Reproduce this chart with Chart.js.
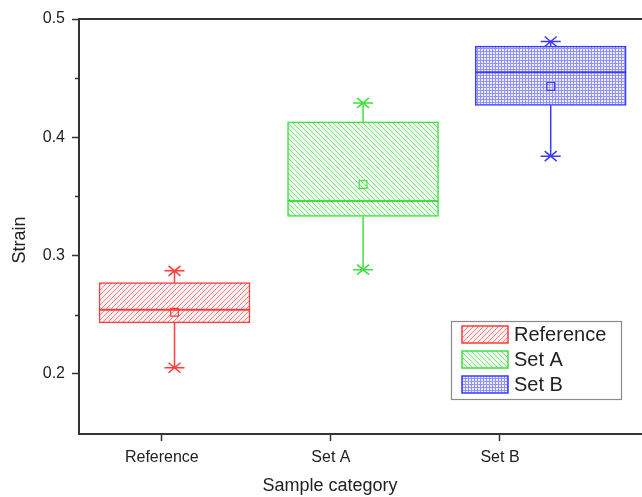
<!DOCTYPE html>
<html>
<head>
<meta charset="utf-8">
<script src="https://cdn.jsdelivr.net/npm/chart.js@4.4.1/dist/chart.umd.min.js"></script>
<style>
  html, body { margin: 0; padding: 0; background: #fff; }
  #wrap { width: 642px; height: 497px; }
</style>
</head>
<body>
<div id="wrap"><canvas id="boxChart"></canvas></div>
<script>
// values
const categories = ["Reference", "Set A", "Set B"];
const boxPos = [0.075, 1.19, 2.3];       // where origin put each box (a bit right of its tick)
const q1 = [0.243, 0.333, 0.427];
const q3 = [0.277, 0.413, 0.477];
const medians = [0.254, 0.346, 0.455];
const means = [0.252, 0.360, 0.443];
const whiskerLow = [0.205, 0.288, 0.384];
const whiskerHigh = [0.287, 0.429, 0.481];
const yTicks = [0.2, 0.3, 0.4, 0.5];
const yMinorTicks = [0.25, 0.35, 0.45];

const lineColors = ["#ff3b3b", "#3ee03e", "#3a3aff"];
const FONT = "'Liberation Sans', Arial, sans-serif";
const AXIS = "#333";

// hatch fills like the origin plot
function makePattern(kind, line, bg) {
  const c = document.createElement("canvas");
  const g = c.getContext("2d");
  const s = kind === "grid" ? 3 : 5;
  c.width = s; c.height = s;
  g.fillStyle = bg;
  g.fillRect(0, 0, s, s);
  if (kind === "grid") {
    // small checker mesh
    g.fillStyle = line;
    g.fillRect(0, 0, s, 1);
    g.fillRect(0, 1, 1, s - 1);
    return g.createPattern(c, "repeat");
  }
  g.strokeStyle = line;
  g.lineWidth = 1;
  g.beginPath();
  if (kind === "fwd") {
    g.moveTo(-1, s + 1); g.lineTo(s + 1, -1);
    g.moveTo(-1, 1); g.lineTo(1, -1);
    g.moveTo(s - 1, s + 1); g.lineTo(s + 1, s - 1);
  } else {
    g.moveTo(-1, -1); g.lineTo(s + 1, s + 1);
    g.moveTo(s - 1, -1); g.lineTo(s + 1, 1);
    g.moveTo(-1, s - 1); g.lineTo(1, s + 1);
  }
  g.stroke();
  return g.createPattern(c, "repeat");
}

const fills = [
  makePattern("fwd", "rgba(255,90,90,0.75)", "#fff2f2"),
  makePattern("back", "rgba(90,225,90,0.8)", "#f0fff0"),
  makePattern("grid", "rgba(110,110,255,0.7)", "#ececff"),
];

// median, whiskers, caps, minor ticks, frame, titles, legend
const boxExtras = {
  id: "boxExtras",
  afterDatasetsDraw(chart) {
    const { ctx, scales: { x, y } } = chart;
    ctx.save();
    categories.forEach((cat, i) => {
      const bar = chart.getDatasetMeta(i).data[0];
      const cx = x.getPixelForValue(boxPos[i]);
      const half = bar.width / 2;
      ctx.strokeStyle = lineColors[i];
      ctx.lineWidth = 1.5;
      ctx.beginPath();
      ctx.moveTo(cx, y.getPixelForValue(q3[i])); ctx.lineTo(cx, y.getPixelForValue(whiskerHigh[i]));
      ctx.moveTo(cx, y.getPixelForValue(q1[i])); ctx.lineTo(cx, y.getPixelForValue(whiskerLow[i]));
      ctx.stroke();
      // median line a touch heavier so it reads over the fill
      ctx.lineWidth = 2;
      ctx.beginPath();
      const ym = y.getPixelForValue(medians[i]);
      ctx.moveTo(cx - half, ym); ctx.lineTo(cx + half, ym);
      ctx.stroke();
      ctx.lineWidth = 1.5;
      [whiskerHigh[i], whiskerLow[i]].forEach(v => {
        const py = y.getPixelForValue(v);
        ctx.beginPath();
        ctx.moveTo(cx - 10, py); ctx.lineTo(cx + 10, py);
        ctx.moveTo(cx - 6, py - 5); ctx.lineTo(cx + 6, py + 5);
        ctx.moveTo(cx - 6, py + 5); ctx.lineTo(cx + 6, py - 5);
        ctx.stroke();
      });
    });
    ctx.restore();
  },
  afterDraw(chart) {
    const { ctx, chartArea: a, scales: { y } } = chart;
    ctx.save();
    // minor y ticks
    ctx.strokeStyle = AXIS;
    ctx.lineWidth = 1.5;
    ctx.beginPath();
    yMinorTicks.forEach(v => {
      const py = Math.round(y.getPixelForValue(v)) + 0.5;
      ctx.moveTo(a.left - 4, py); ctx.lineTo(a.left, py);
    });
    ctx.stroke();
    // top frame line
    ctx.lineWidth = 2;
    ctx.beginPath();
    ctx.moveTo(a.left - 1, a.top); ctx.lineTo(chart.width, a.top);
    ctx.stroke();

    // axis titles
    ctx.fillStyle = "#222";
    ctx.font = "18px " + FONT;
    ctx.textAlign = "center";
    ctx.textBaseline = "middle";
    ctx.fillText("Sample category", 330, 486);
    ctx.save();
    ctx.translate(20, 240);
    ctx.rotate(-Math.PI / 2);
    ctx.fillText("Strain", 0, 0);
    ctx.restore();

    // legend
    const lx = 451, ly = 321;
    ctx.fillStyle = "#fff";
    ctx.fillRect(lx, ly, 170, 78);
    ctx.strokeStyle = "#8a8a8a";
    ctx.lineWidth = 1.2;
    ctx.strokeRect(lx + 0.5, ly + 0.5, 170, 78);
    ctx.font = "20px " + FONT;
    ctx.textAlign = "left";
    categories.forEach((cat, i) => {
      const top = ly + 5 + i * 25;
      ctx.fillStyle = fills[i];
      ctx.fillRect(lx + 11, top, 46, 17);
      ctx.strokeStyle = lineColors[i];
      ctx.lineWidth = 1.5;
      ctx.strokeRect(lx + 11, top, 46, 17);
      ctx.fillStyle = "#222";
      ctx.fillText(cat, lx + 63, top + 9);
    });
    ctx.restore();
  }
};

const datasets = categories.map((cat, i) => ({
  type: "bar",
  label: cat,
  data: [{ x: boxPos[i], y: [q1[i], q3[i]] }],
  backgroundColor: fills[i],
  borderColor: lineColors[i],
  borderWidth: 1.5,
  borderSkipped: false,
  barThickness: 151,
  grouped: false,
  order: 2,
}));

datasets.push({
  type: "scatter",
  label: "Mean",
  data: categories.map((c, i) => ({ x: boxPos[i], y: means[i] })),
  pointStyle: "rect",
  pointRadius: 5.5,
  pointBorderWidth: 1.2,
  pointBackgroundColor: "rgba(0,0,0,0)",
  pointBorderColor: lineColors,
  order: 1,
});

new Chart(document.getElementById("boxChart"), {
  data: { datasets },
  plugins: [boxExtras],
  options: {
    responsive: true,
    maintainAspectRatio: false,
    animation: false,
    layout: { autoPadding: false, padding: { top: 19, right: 0, left: 0, bottom: 0 } },
    plugins: { legend: { display: false }, tooltip: { enabled: false } },
    scales: {
      x: {
        type: "linear",
        offset: false,
        min: -0.49,
        max: 2.84,
        afterFit: s => { s.height = 63; s.paddingRight = 0; s.paddingLeft = 0; },
        afterBuildTicks: s => { s.ticks = categories.map((c, i) => ({ value: i })); },
        ticks: {
          callback: v => categories[v],
          font: { size: 16, family: FONT },
          color: "#222",
          padding: 7,
          maxRotation: 0,
        },
        grid: { offset: false, drawOnChartArea: false, tickLength: 7, color: AXIS, tickWidth: 1.5 },
        border: { color: AXIS, width: 2 },
      },
      y: {
        min: 0.149,
        max: 0.5,
        afterFit: s => { s.width = 79; },
        afterBuildTicks: s => { s.ticks = yTicks.map(v => ({ value: v })); },
        ticks: {
          callback: v => v.toFixed(1),
          font: { size: 16, family: FONT },
          color: "#222",
          padding: 7,
        },
        grid: { drawOnChartArea: false, tickLength: 7, color: AXIS, tickWidth: 1.5 },
        border: { color: AXIS, width: 2 },
      },
    },
  },
});
</script>
</body>
</html>
